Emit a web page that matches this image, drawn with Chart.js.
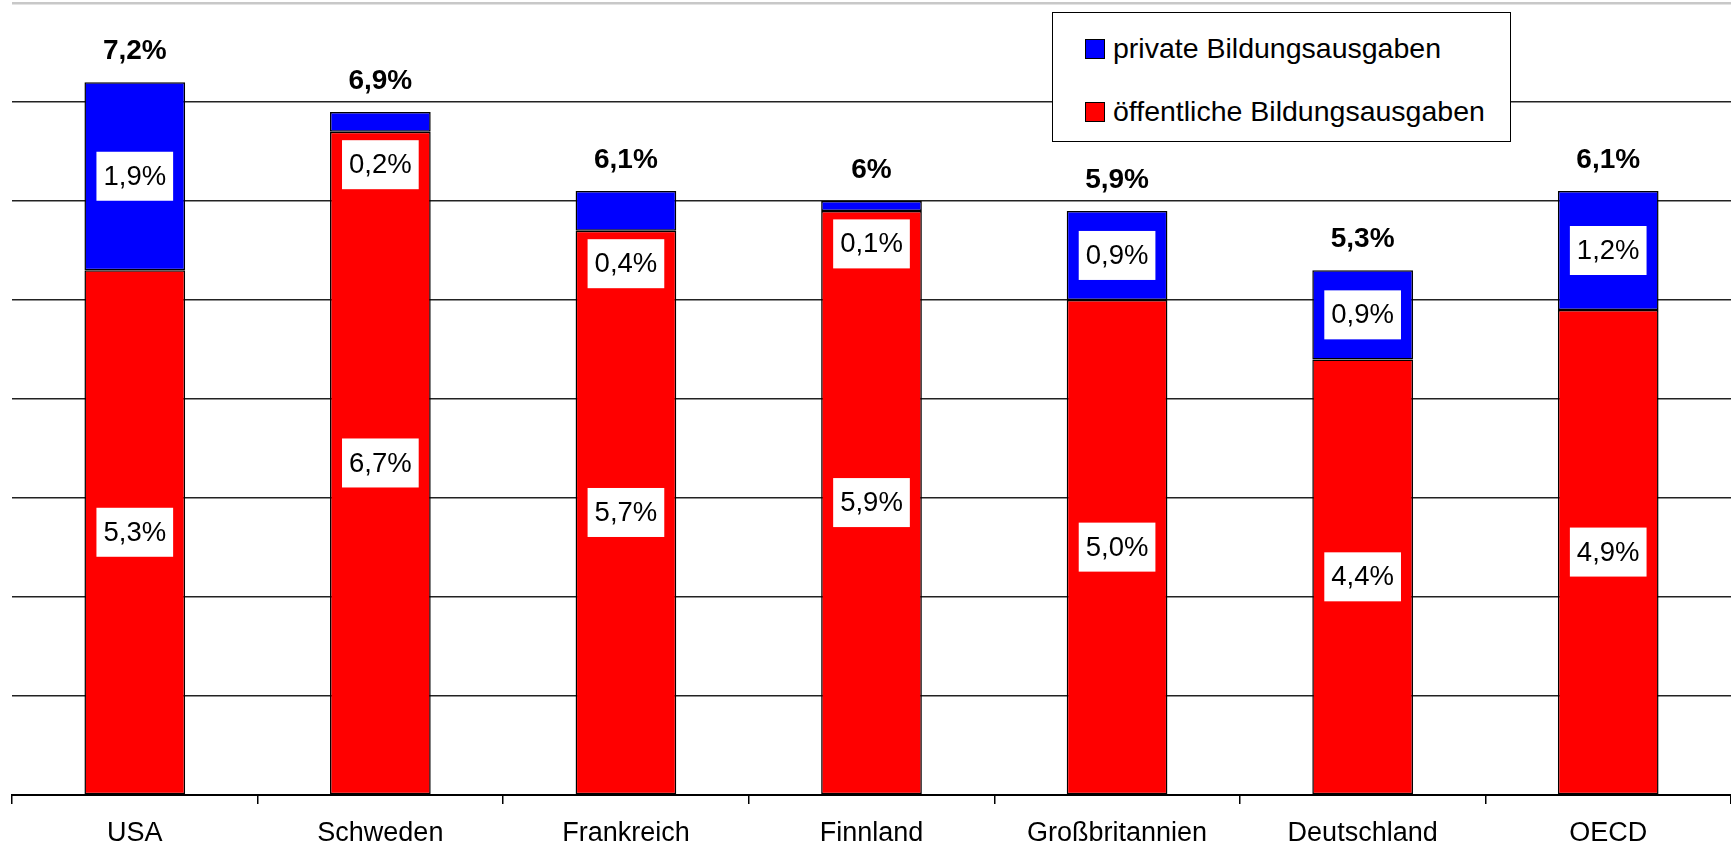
<!DOCTYPE html>
<html>
<head>
<meta charset="utf-8">
<script src="https://cdn.jsdelivr.net/npm/chart.js@4"></script>
<style>
  html, body { margin: 0; padding: 0; background: #fff; }
  #wrap { position: relative; width: 1731px; height: 858px; }
  #legend {
    position: absolute; left: 1052px; top: 12px; width: 459px; height: 130px;
    border: 1.5px solid #000; background: #fff; box-sizing: border-box;
    font-family: "Liberation Sans", Arial, sans-serif; font-size: 28.5px; color: #000;
  }
  #legend .item { position: absolute; left: 32px; display: flex; align-items: center; }
  #legend .sw { width: 18px; height: 18px; border: 1px solid #000; margin-right: 8px; }
</style>
</head>
<body>
<div id="wrap">
  <canvas id="chart" width="1731" height="858"></canvas>
  <div id="legend"></div>
</div>
<script>
// ===== Daten =====
const laender = ['USA', 'Schweden', 'Frankreich', 'Finnland', 'Großbritannien', 'Deutschland', 'OECD'];
const oeffentlich = [5.3, 6.7, 5.7, 5.9, 5.0, 4.4, 4.9];
const privat = [1.9, 0.2, 0.4, 0.1, 0.9, 0.9, 1.2];
const gesamt = [7.2, 6.9, 6.1, 6.0, 5.9, 5.3, 6.1];
const gesamtLabels = ['7,2%', '6,9%', '6,1%', '6%', '5,9%', '5,3%', '6,1%'];

const FONT = '"Liberation Sans", Arial, sans-serif';
const fmt = v => v.toFixed(1).replace('.', ',') + '%';

// ===== Beschriftungen auf den Balken =====
const labelPlugin = {
  id: 'barLabels',
  afterDatasetsDraw(chart) {
    const c = chart.ctx;
    c.save();
    c.textAlign = 'center';
    c.textBaseline = 'middle';
    chart.data.datasets.forEach((ds, di) => {
      const meta = chart.getDatasetMeta(di);
      meta.data.forEach((bar, i) => {
        const v = ds.data[i];
        const h = Math.abs(bar.base - bar.y);
        let cy = (bar.y + bar.base) / 2;
        if (ds.isPrivate && h < 49) cy = bar.base + 33;
        c.font = '27.5px ' + FONT;
        const txt = fmt(v);
        const w = c.measureText(txt).width + 14;
        c.fillStyle = '#fff';
        c.fillRect(bar.x - w / 2, cy - 24.5, w, 49);
        c.fillStyle = '#000';
        c.fillText(txt, bar.x, cy + 1);
      });
    });
    // Summen oben
    const top = chart.getDatasetMeta(1);
    c.font = 'bold 28px ' + FONT;
    top.data.forEach((bar, i) => {
      const y = chart.scales.y.getPixelForValue(gesamt[i]);
      c.fillText(gesamtLabels[i], bar.x, y - 31);
    });
    c.restore();
  }
};

const ctx = document.getElementById('chart').getContext('2d');
const chart = new Chart(ctx, {
  type: 'bar',
  data: {
    labels: laender,
    datasets: [
      {
        label: 'öffentliche Bildungsausgaben',
        data: oeffentlich,
        backgroundColor: '#ff0000',
        borderColor: '#000',
        borderWidth: 1.5,
        borderSkipped: false
      },
      {
        label: 'private Bildungsausgaben',
        data: privat,
        isPrivate: true,
        backgroundColor: '#0000ff',
        borderColor: '#000',
        borderWidth: 1.5,
        borderSkipped: false
      }
    ]
  },
  options: {
    responsive: false,
    animation: false,
    layout: { padding: { left: 12, right: 0, top: 3, bottom: 0 } },
    datasets: { bar: { categoryPercentage: 1, barPercentage: 0.41 } },
    plugins: { legend: { display: false }, tooltip: { enabled: false } },
    scales: {
      x: {
        stacked: true,
        afterFit(scale) { scale.height = 63; },
        border: { display: true, color: '#000', width: 2 },
        grid: { offset: true, drawOnChartArea: false, drawTicks: true, tickLength: 9, color: '#000', lineWidth: 1.5 },
        ticks: { color: '#000', padding: 13, font: { family: FONT, size: 27 } }
      },
      y: {
        stacked: true,
        min: 0,
        max: 8,
        border: { display: false },
        grid: {
          drawTicks: false,
          color: c => c.tick.value === 8 ? '#c8c8c8' : '#222',
          lineWidth: c => c.tick.value === 8 ? 2.5 : 1.5
        },
        ticks: { display: false, stepSize: 1 }
      }
    }
  },
  plugins: [labelPlugin]
});

// ===== Legende =====
const legend = document.getElementById('legend');
[1, 0].forEach((di, k) => {
  const ds = chart.data.datasets[di];
  const item = document.createElement('div');
  item.className = 'item';
  item.style.top = (k === 0 ? 19 : 82) + 'px';
  item.innerHTML = '<span class="sw" style="background:' + ds.backgroundColor + '"></span><span>' + ds.label + '</span>';
  legend.appendChild(item);
});
</script>
</body>
</html>
